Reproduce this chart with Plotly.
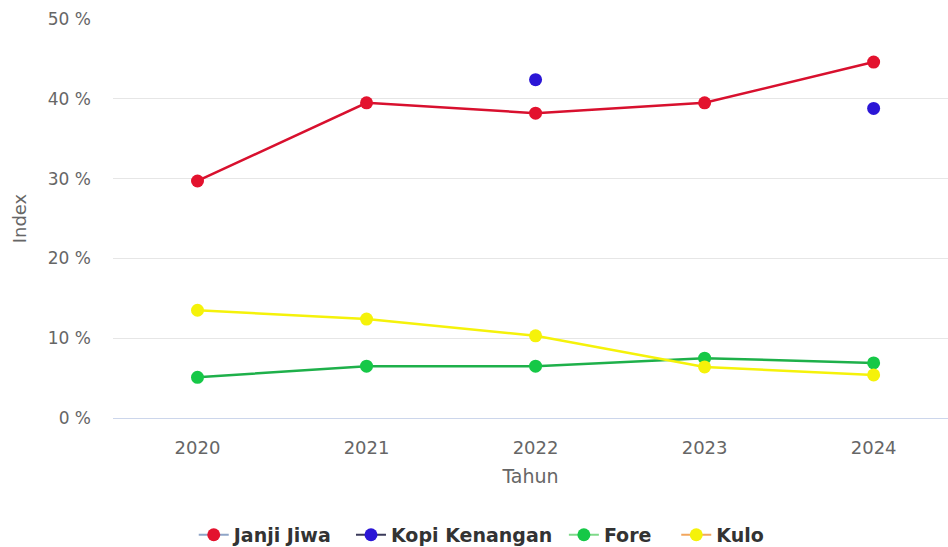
import plotly.graph_objects as go

years = ["2020", "2021", "2022", "2023", "2024"]
janji_jiwa = [29.7, 39.5, 38.2, 39.5, 44.6]
kopi_kenangan = [None, None, 42.4, None, 38.8]
fore = [5.1, 6.5, 6.5, 7.5, 6.9]
kulo = [13.5, 12.4, 10.3, 6.4, 5.4]
y_ticks = [0, 10, 20, 30, 40, 50]
y_tick_labels = ["0 %", "10 %", "20 %", "30 %", "40 %", "50 %"]

# name, values, plot line colour, marker colour, legend line colour
series = [
    ("Janji Jiwa", janji_jiwa, "#d8102e", "#e3122e", "#8fa6c8"),
    ("Kopi Kenangan", kopi_kenangan, "#2b16d6", "#2b16d6", "#3a3a5a"),
    ("Fore", fore, "#1eb04a", "#16c847", "#7fd98a"),
    ("Kulo", kulo, "#f5f20a", "#f5f20a", "#f2a65e"),
]
legend_pad = [2, 1, 3, 0]  # extra non-breaking spaces after each legend label

fig = go.Figure()
for name, vals, lc, mc, _ in series:
    fig.add_trace(go.Scatter(
        x=list(range(len(years))), y=vals, name=name, mode="lines+markers",
        line=dict(color=lc, width=2.5),
        marker=dict(color=mc, size=13),
        connectgaps=False, showlegend=False,
    ))
for (name, vals, lc, mc, legc), pad in zip(series, legend_pad):
    fig.add_trace(go.Scatter(
        x=[None], y=[None], name=name + "\u00a0" * pad, mode="lines+markers",
        line=dict(color=legc, width=2),
        marker=dict(color=mc, size=13),
        showlegend=True,
    ))

fig.update_layout(
    width=948, height=547,
    margin=dict(l=113, r=0, t=19, b=129, autoexpand=False),
    paper_bgcolor="white", plot_bgcolor="white",
    font=dict(family="DejaVu Sans", size=17, color="#666666"),
    legend=dict(orientation="h", x=0.441, xanchor="center", y=-0.293, yanchor="middle",
                font=dict(size=19, color="#333333", family="DejaVu Sans", weight="bold"),
                traceorder="normal"),
    xaxis=dict(
        tickmode="array", tickvals=list(range(len(years))), ticktext=years,
        range=[-0.5, 4.44], showgrid=False, zeroline=False,
        showline=True, linecolor="#ccd6eb", linewidth=1,
        ticks="", ticklabelstandoff=13, tickfont=dict(size=18),
        title=dict(text="Tahun", font=dict(size=19, color="#666666"), standoff=13),
        fixedrange=True,
    ),
    yaxis=dict(
        range=[0, 50], tickvals=y_ticks, ticktext=y_tick_labels,
        showgrid=True, gridcolor="#e6e6e6", gridwidth=1, zeroline=False,
        ticks="", ticklabelstandoff=21,
        title=dict(text="Index", font=dict(size=18, color="#666666"), standoff=16),
    ),
)
fig.write_html("out.html", config={"displayModeBar": False},
               post_script="document.body.style.margin='0';")
